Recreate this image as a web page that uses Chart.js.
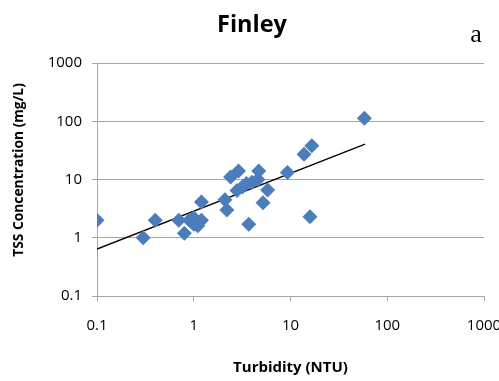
<!DOCTYPE html>
<html>
<head>
<meta charset="utf-8">
<script src="https://cdn.jsdelivr.net/npm/chart.js@4"></script>
<style>
  html, body { margin: 0; padding: 0; background: #fff; }
  #wrap { width: 499px; height: 381px; }
</style>
</head>
<body>
<div id="wrap"><canvas id="chart" width="499" height="381"></canvas></div>
<script>
// Turbidity (NTU) vs TSS (mg/L) samples
const turbidity = [0.1, 0.3, 0.4, 0.7, 0.8, 0.9, 1.0, 1.0, 1.1, 1.2, 1.2, 2.1, 2.2, 2.4, 2.9, 2.8, 3.2, 3.5, 3.7, 4.0, 4.7, 4.6, 5.2, 5.8, 9.3, 13.8, 16.6, 15.9, 58];
const tss = [2.0, 1.0, 2.0, 2.0, 1.2, 2.0, 1.7, 2.2, 1.6, 2.0, 4.1, 4.5, 3.0, 11, 14, 6.5, 7.5, 8.5, 1.7, 9, 14, 10, 4.0, 6.6, 13.2, 27, 38, 2.3, 113];

// power-law trendline end points
const trendX = [0.1, 59];
const trendY = [0.64, 40.5];

const tickValues = [0.1, 1, 10, 100, 1000];

const points = turbidity.map((x, i) => ({ x: x, y: tss[i] }));
const trend = trendX.map((x, i) => ({ x: x, y: trendY[i] }));

const fontFamily = "'Open Sans', sans-serif";

// title, panel letter and the vertical axis title
const titlePlugin = {
    id: 'titles',
    afterDraw(chart) {
        const c = chart.ctx;
        c.save();
        c.fillStyle = '#000';
        c.textBaseline = 'alphabetic';
        c.textAlign = 'center';
        c.font = "bold 23.5px " + fontFamily;
        c.fillText('Finley', 252, 32);
        c.font = "26px 'Liberation Serif', serif";
        c.fillText('a', 476, 42);

        c.translate(19, 170);
        c.rotate(-Math.PI / 2);
        c.textBaseline = 'middle';
        c.font = "bold 13.8px " + fontFamily;
        c.fillText('TSS Concentration (mg/L)', 0, 0);
        c.restore();
    }
};

const ctx = document.getElementById("chart").getContext("2d");
new Chart(ctx, {
    type: 'scatter',
    data: {
        datasets: [{
            data: points,
            pointStyle: 'rectRot',
            pointRadius: 7.5,
            pointHoverRadius: 7.5,
            backgroundColor: '#4a7ebb',
            borderColor: '#4a7ebb',
            borderWidth: 0
        }, {
            type: 'line',
            data: trend,
            borderColor: '#000',
            borderWidth: 1.3,
            pointRadius: 0,
            fill: false
        }]
    },
    plugins: [titlePlugin],
    options: {
        responsive: false,
        animation: false,
        layout: { padding: { top: 63, right: 15, left: 0, bottom: 0 } },
        plugins: {
            legend: { display: false },
            tooltip: { enabled: false }
        },
        scales: {
            x: {
                type: 'logarithmic',
                min: 0.1,
                max: 1000,
                afterBuildTicks: (scale) => { scale.ticks = tickValues.map(v => ({ value: v })); },
                afterFit: (scale) => {
                    scale.height = 85;
                    scale.paddingLeft = 0;
                    scale.paddingRight = 0;
                },
                border: { color: '#a6a6a6' },
                grid: { drawOnChartArea: false, drawTicks: true, tickLength: 5, color: '#a6a6a6' },
                ticks: {
                    autoSkip: false,
                    maxRotation: 0,
                    padding: 16,
                    color: '#000',
                    font: { family: fontFamily, size: 15 },
                    callback: (v) => String(v)
                },
                title: {
                    display: true,
                    text: 'Turbidity (NTU)',
                    color: '#000',
                    font: { family: fontFamily, size: 15, weight: 'bold' },
                    padding: { top: 12 }
                }
            },
            y: {
                type: 'logarithmic',
                min: 0.1,
                max: 1000,
                afterBuildTicks: (scale) => { scale.ticks = tickValues.map(v => ({ value: v })); },
                afterFit: (scale) => { scale.width = 97; },
                border: { color: '#a6a6a6' },
                grid: { color: '#a6a6a6', tickLength: 5 },
                ticks: {
                    autoSkip: false,
                    padding: 10,
                    color: '#000',
                    font: { family: fontFamily, size: 15 },
                    callback: (v) => String(v)
                }
            }
        }
    }
});
</script>
</body>
</html>
